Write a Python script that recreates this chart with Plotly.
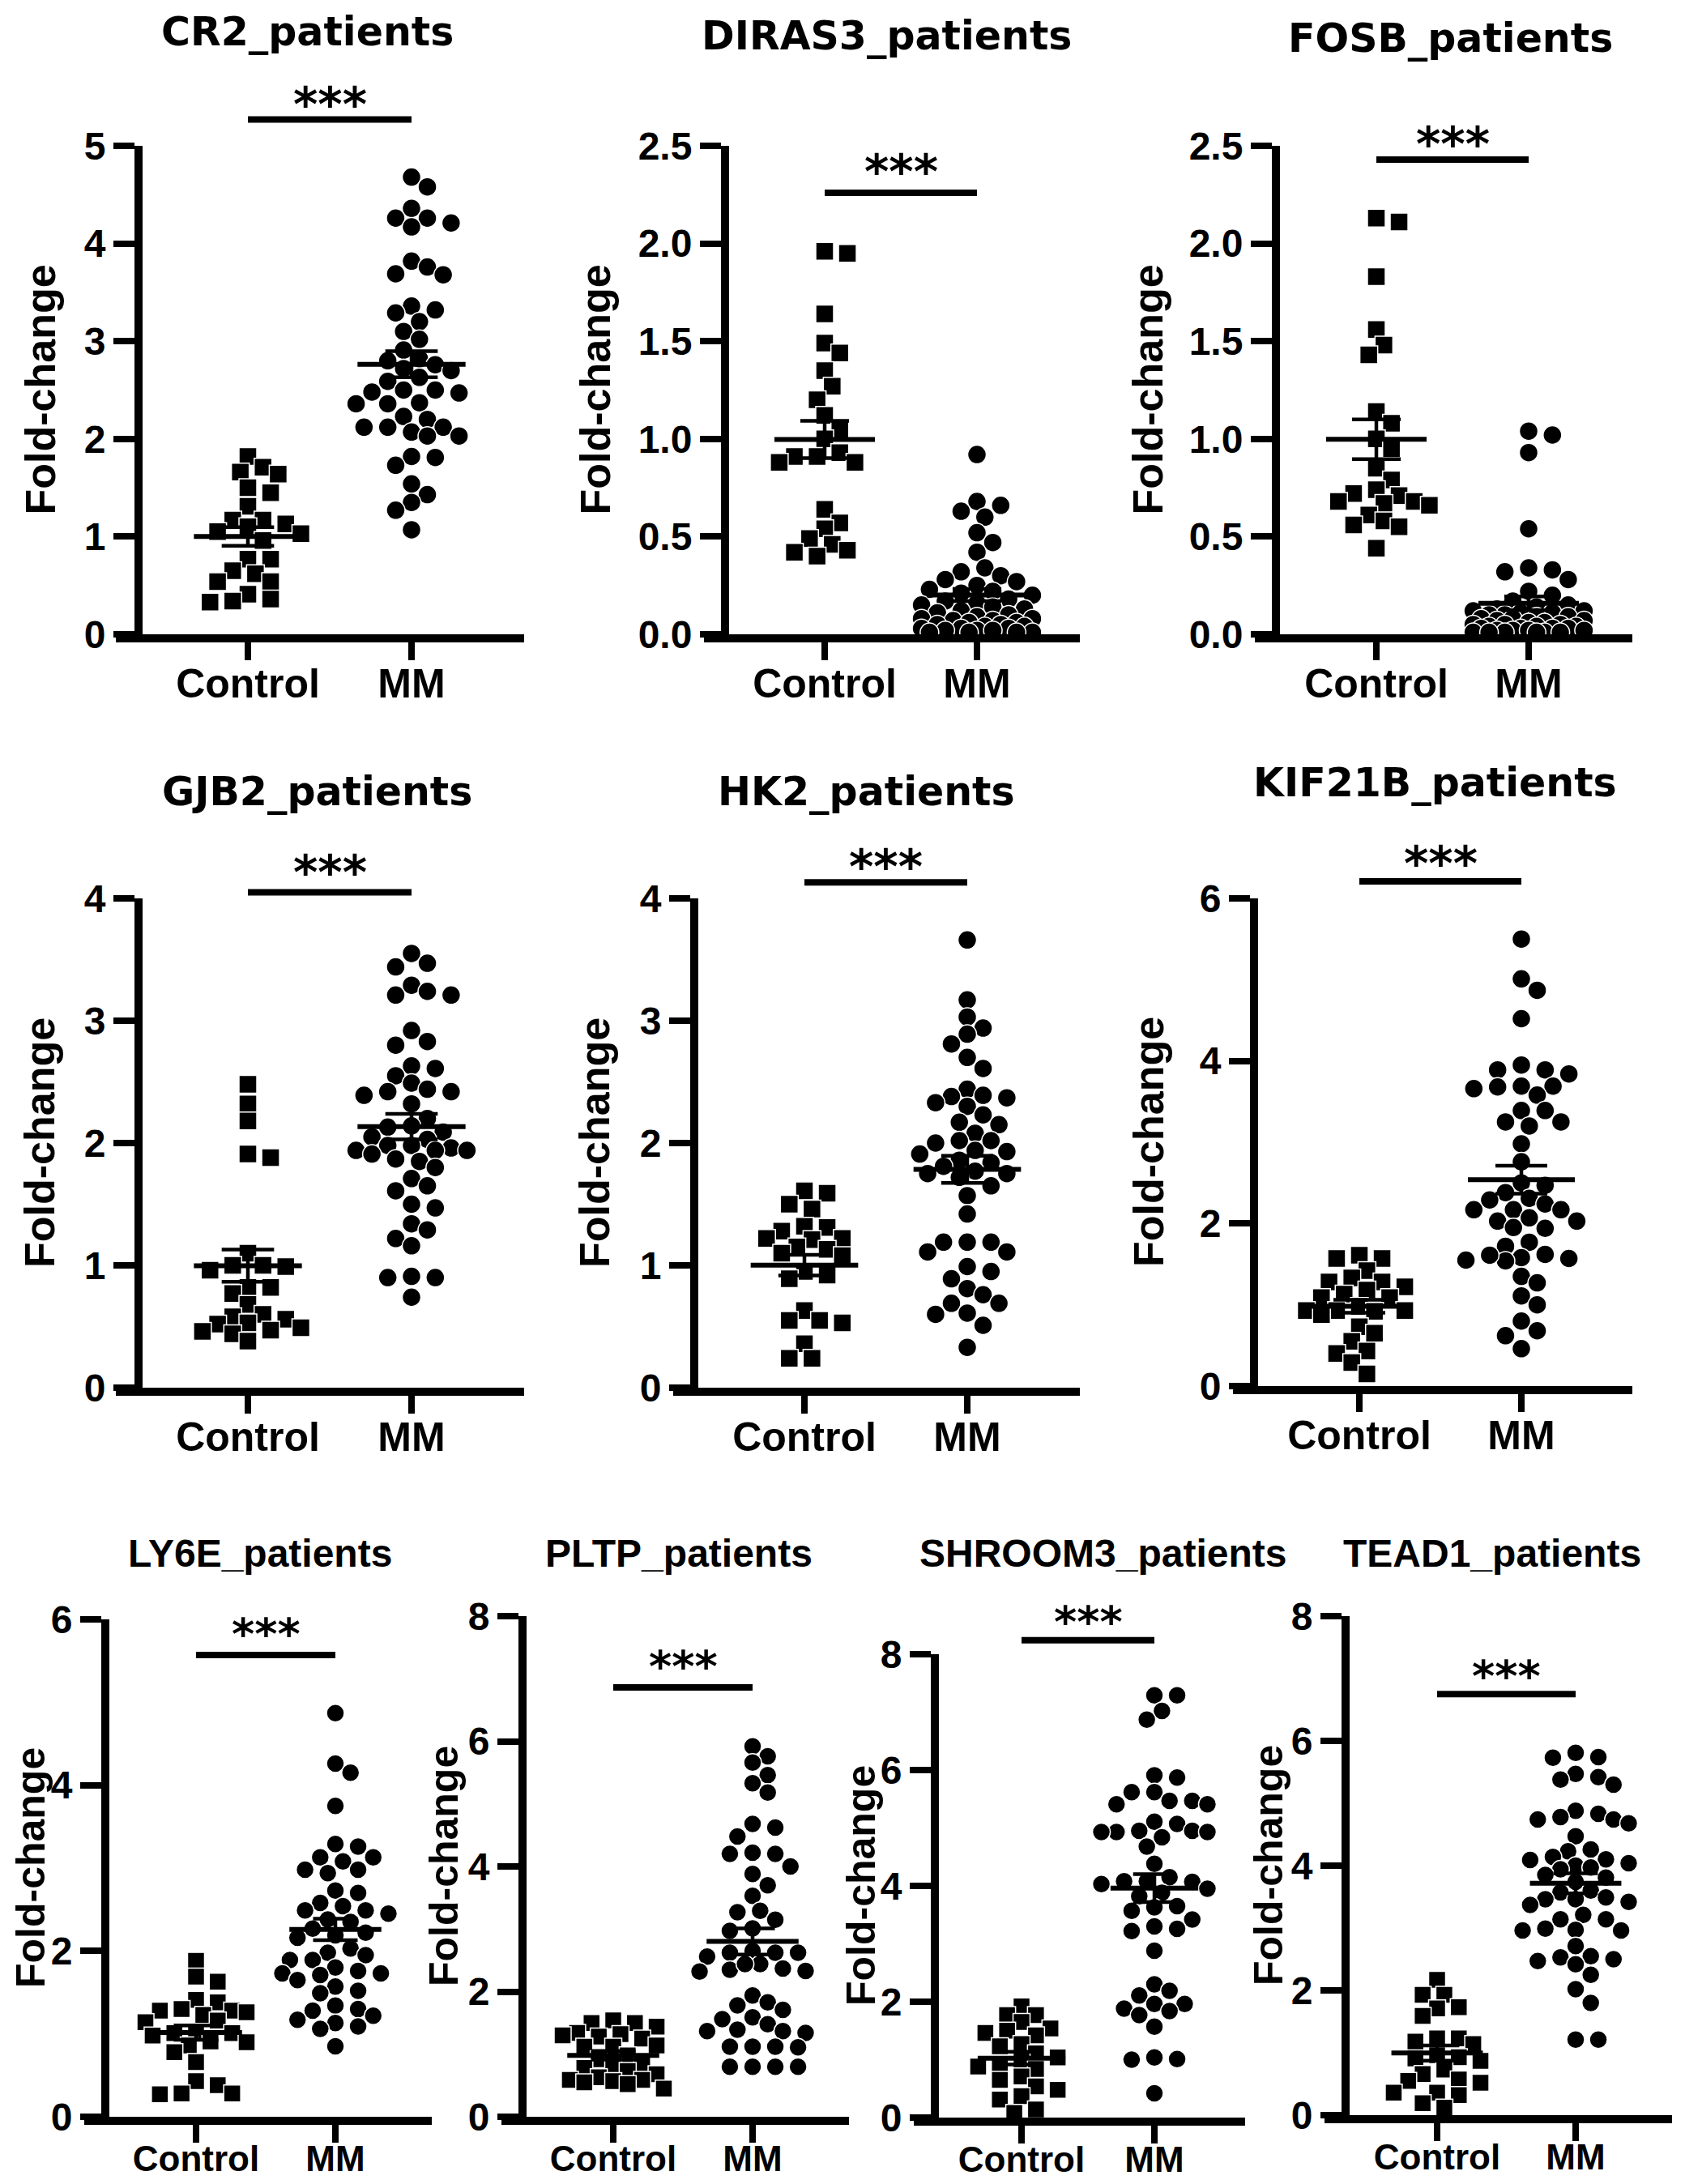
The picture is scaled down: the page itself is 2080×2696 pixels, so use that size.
import numpy as np
import plotly.graph_objects as go

W, H = 2080, 2696
OFF = 8  # the page body margin shifts the plot div by this many px

groups = ["Control", "MM"]
genes = ["CR2", "DIRAS3", "FOSB", "GJB2", "HK2", "KIF21B", "LY6E", "PLTP", "SHROOM3", "TEAD1"]

# fold-change values
cr2_control = [1.82, 1.71, 1.66, 1.64, 1.50, 1.45, 1.31, 1.17, 1.17, 1.13, 1.10, 1.05,
               1.03, 0.96, 0.77, 0.77, 0.65, 0.62, 0.54, 0.54, 0.41, 0.36, 0.34, 0.33]
cr2_mm = [4.68, 4.58, 4.36, 4.26, 4.26, 4.21, 4.17, 3.82, 3.76, 3.69, 3.68, 3.36,
          3.32, 3.29, 3.20, 3.10, 3.02, 2.91, 2.80, 2.82, 2.76, 2.72, 2.70, 2.63,
          2.59, 2.50, 2.50, 2.48, 2.47, 2.37, 2.36, 2.36, 2.23, 2.20, 2.12, 2.12,
          2.12, 2.07, 2.03, 2.03, 1.82, 1.81, 1.73, 1.54, 1.43, 1.35, 1.27, 1.07]

diras3_control = [1.96, 1.95, 1.64, 1.49, 1.44, 1.35, 1.27, 1.20, 1.12, 1.05, 1.00, 0.93,
                  0.91, 0.91, 0.88, 0.88, 0.64, 0.57, 0.54, 0.49, 0.46, 0.43, 0.42, 0.40]
diras3_mm = [0.92, 0.68, 0.66, 0.63, 0.60, 0.52, 0.47, 0.42, 0.34, 0.32, 0.30, 0.28,
             0.27, 0.25, 0.23, 0.22, 0.21, 0.20, 0.18, 0.17, 0.16, 0.15, 0.14, 0.13,
             0.12, 0.11, 0.10, 0.09, 0.08, 0.08, 0.07, 0.07, 0.06, 0.06, 0.05, 0.05,
             0.04, 0.04, 0.03, 0.03, 0.03, 0.02, 0.02, 0.02, 0.01, 0.01, 0.01, 0.01]

fosb_control = [2.13, 2.11, 1.83, 1.56, 1.48, 1.43, 1.14, 1.08, 1.00, 0.95, 0.85, 0.79,
                0.74, 0.72, 0.71, 0.68, 0.68, 0.67, 0.66, 0.61, 0.58, 0.56, 0.55, 0.44]
fosb_mm = [1.04, 1.02, 0.93, 0.54, 0.34, 0.33, 0.32, 0.28, 0.22, 0.20, 0.17, 0.15,
           0.14, 0.13, 0.12, 0.12, 0.11, 0.11, 0.10, 0.10, 0.09, 0.09, 0.08, 0.08,
           0.07, 0.07, 0.06, 0.06, 0.05, 0.05, 0.05, 0.04, 0.04, 0.04, 0.03, 0.03,
           0.03, 0.03, 0.02, 0.02, 0.02, 0.02, 0.01, 0.01, 0.01, 0.01, 0.01, 0.01]

gjb2_control = [2.48, 2.32, 2.18, 1.91, 1.88, 1.10, 1.00, 1.00, 0.99, 0.96, 0.82, 0.82,
                0.77, 0.68, 0.60, 0.58, 0.56, 0.53, 0.52, 0.49, 0.47, 0.46, 0.44, 0.38]
gjb2_mm = [3.55, 3.47, 3.44, 3.29, 3.24, 3.21, 3.21, 2.92, 2.83, 2.80, 2.63, 2.61,
           2.55, 2.49, 2.44, 2.42, 2.42, 2.39, 2.32, 2.20, 2.14, 2.13, 2.09, 2.05,
           2.03, 1.98, 1.98, 1.96, 1.94, 1.94, 1.94, 1.91, 1.87, 1.85, 1.80, 1.71,
           1.65, 1.61, 1.50, 1.47, 1.34, 1.29, 1.22, 1.16, 0.91, 0.90, 0.90, 0.74]

hk2_control = [1.61, 1.59, 1.50, 1.46, 1.32, 1.31, 1.28, 1.22, 1.22, 1.21, 1.15, 1.13,
               1.10, 1.08, 0.95, 0.92, 0.89, 0.63, 0.55, 0.55, 0.53, 0.36, 0.24, 0.24]
hk2_mm = [3.66, 3.17, 3.03, 2.94, 2.89, 2.81, 2.70, 2.61, 2.44, 2.38, 2.37, 2.39,
          2.33, 2.30, 2.23, 2.17, 2.15, 2.08, 2.02, 2.02, 2.00, 1.94, 1.93, 1.91,
          1.86, 1.84, 1.81, 1.77, 1.75, 1.75, 1.72, 1.65, 1.57, 1.42, 1.19, 1.19,
          1.19, 1.11, 1.11, 0.99, 0.95, 0.89, 0.81, 0.76, 0.69, 0.69, 0.60, 0.61,
          0.51, 0.33]

kif21b_control = [1.61, 1.57, 1.57, 1.42, 1.33, 1.28, 1.28, 1.22, 1.18, 1.13, 1.09, 1.09,
                  0.98, 0.93, 0.93, 0.93, 0.92, 0.88, 0.73, 0.65, 0.55, 0.43, 0.40, 0.29,
                  0.15]
kif21b_mm = [5.50, 5.01, 4.87, 4.52, 3.95, 3.89, 3.89, 3.84, 3.69, 3.69, 3.68, 3.66,
             3.58, 3.39, 3.39, 3.25, 3.25, 3.20, 2.98, 2.76, 2.50, 2.47, 2.38, 2.31,
             2.29, 2.24, 2.17, 2.17, 2.17, 2.07, 2.03, 2.03, 1.95, 1.94, 1.77, 1.72,
             1.58, 1.55, 1.54, 1.61, 1.62, 1.57, 1.35, 1.27, 1.11, 1.00, 0.80, 0.68,
             0.62, 0.46]

ly6e_control = [1.88, 1.69, 1.63, 1.38, 1.41, 1.30, 1.28, 1.28, 1.26, 1.23, 1.16, 1.14,
                1.01, 1.01, 1.01, 0.98, 0.91, 0.90, 0.86, 0.78, 0.66, 0.43, 0.38, 0.28,
                0.28, 0.27]
ly6e_mm = [4.87, 4.26, 4.15, 3.75, 3.29, 3.26, 3.13, 3.13, 3.08, 2.98, 2.98, 2.94,
           2.73, 2.70, 2.58, 2.54, 2.49, 2.49, 2.45, 2.38, 2.35, 2.27, 2.22, 2.19,
           2.16, 2.03, 1.98, 1.95, 1.89, 1.89, 1.80, 1.76, 1.73, 1.73, 1.71, 1.65,
           1.57, 1.52, 1.49, 1.30, 1.34, 1.28, 1.22, 1.17, 1.13, 1.09, 1.06, 0.85]

pltp_control = [1.54, 1.50, 1.50, 1.44, 1.34, 1.32, 1.30, 1.28, 1.25, 1.14, 1.12, 1.12,
                0.98, 0.92, 0.84, 0.83, 0.78, 0.73, 0.68, 0.63, 0.59, 0.59, 0.57, 0.55,
                0.52, 0.45]
pltp_mm = [5.92, 5.76, 5.66, 5.46, 5.33, 5.18, 4.68, 4.62, 4.48, 4.22, 4.20, 4.20,
           4.00, 3.88, 3.70, 3.53, 3.29, 3.27, 3.15, 3.01, 2.97, 2.62, 2.62, 2.62,
           2.65, 2.56, 2.44, 2.35, 2.37, 2.32, 2.44, 2.33, 1.94, 1.83, 1.78, 1.71,
           1.56, 1.59, 1.48, 1.39, 1.37, 1.34, 1.37, 1.12, 1.12, 1.11, 1.12, 0.80,
           0.80, 0.80, 0.80]

shroom3_control = [1.92, 1.77, 1.77, 1.65, 1.54, 1.50, 1.46, 1.42, 1.27, 1.23, 1.11, 1.04,
                   1.00, 0.92, 0.88, 0.84, 0.71, 0.65, 0.48, 0.54, 0.37, 0.31, 0.14, 0.08]
shroom3_mm = [7.29, 7.29, 7.02, 6.87, 5.91, 5.87, 5.62, 5.62, 5.47, 5.47, 5.41, 5.41,
              5.11, 5.07, 4.95, 4.95, 4.93, 4.93, 4.93, 4.84, 4.68, 4.38, 4.15, 4.08,
              4.08, 4.07, 4.03, 3.95, 3.88, 3.82, 3.65, 3.63, 3.57, 3.42, 3.30, 3.26,
              3.22, 2.88, 2.30, 2.19, 2.11, 1.96, 1.96, 1.88, 1.84, 1.77, 1.57, 1.04,
              1.00, 1.01, 0.42]

tead1_control = [2.17, 1.93, 1.93, 1.73, 1.71, 1.59, 1.23, 1.23, 1.18, 1.14, 0.96, 0.93,
                 0.91, 0.87, 0.73, 0.66, 0.57, 0.55, 0.52, 0.36, 0.36, 0.32, 0.19, 0.12]
tead1_mm = [5.81, 5.74, 5.73, 5.47, 5.42, 5.38, 5.30, 4.88, 4.83, 4.78, 4.74, 4.74,
            4.68, 4.47, 4.26, 4.23, 4.14, 4.10, 4.09, 4.04, 4.00, 3.97, 3.94, 3.85,
            3.81, 3.74, 3.57, 3.60, 3.49, 3.46, 3.42, 3.46, 3.37, 3.21, 3.14, 3.14,
            2.99, 2.97, 2.96, 2.96, 2.71, 2.55, 2.53, 2.50, 2.47, 2.42, 2.25, 2.02,
            1.80, 1.21, 1.21]

y_max = [5, 2.5, 2.5, 4, 4, 6, 6, 8, 8, 8]
y_dtick = [1, 0.5, 0.5, 1, 1, 2, 2, 2, 2, 2]

data = [
    (cr2_control, cr2_mm), (diras3_control, diras3_mm), (fosb_control, fosb_mm),
    (gjb2_control, gjb2_mm), (hk2_control, hk2_mm), (kif21b_control, kif21b_mm),
    (ly6e_control, ly6e_mm), (pltp_control, pltp_mm), (shroom3_control, shroom3_mm),
    (tead1_control, tead1_mm),
]

# page geometry in pixels: y axis x, x axis start/end, group centres, y0/ytop,
# title centre, y label x, significance bar and star height (in data units)
panels = [
    dict(yax=171, xs=143, xe=647, c=306, m=508, y0=783, yt=180, title=(379, 39), lab=49, bar=5.27, star=5.55, row=0),
    dict(yax=895, xs=869, xe=1333, c=1018, m=1206, y0=783, yt=180, title=(1095, 45), lab=734, bar=2.26, star=2.43, row=0),
    dict(yax=1575, xs=1549, xe=2015, c=1699, m=1887, y0=783, yt=180, title=(1790, 48), lab=1416, bar=2.43, star=2.57, row=0),
    dict(yax=171, xs=143, xe=647, c=306, m=508, y0=1713, yt=1109, title=(391, 977), lab=49, bar=4.05, star=4.31, row=1),
    dict(yax=857, xs=831, xe=1333, c=993, m=1194, y0=1713, yt=1109, title=(1069, 977), lab=734, bar=4.13, star=4.36, row=1),
    dict(yax=1548, xs=1522, xe=2015, c=1678, m=1878, y0=1711, yt=1109, title=(1771, 966), lab=1418, bar=6.21, star=6.58, row=1),
    dict(yax=130, xs=104, xe=533, c=242, m=414, y0=2613, yt=1999, title=(321, 1917), lab=38, bar=5.57, star=5.97, row=2),
    dict(yax=645, xs=619, xe=1048, c=757, m=929, y0=2613, yt=1995, title=(838, 1917), lab=548, bar=6.86, star=7.38, row=2),
    dict(yax=1154, xs=1128, xe=1537, c=1261, m=1425, y0=2614, yt=2042, title=(1361, 1917), lab=1063, bar=8.24, star=8.76, row=2),
    dict(yax=1661, xs=1635, xe=2064, c=1774, m=1945, y0=2611, yt=1995, title=(1842, 1917), lab=1566, bar=6.75, star=7.23, row=2),
]

row_style = [
    dict(title_font="DejaVu Sans", title_size=49, xtick=50, ytick=48, star=58, ms=23, xpad=-14, lab=52),
    dict(title_font="DejaVu Sans", title_size=49, xtick=50, ytick=48, star=58, ms=23, xpad=-14, lab=52),
    dict(title_font="Liberation Sans", title_size=48, xtick=44, ytick=48, star=54, ms=22, xpad=-18, lab=50),
]

ARIAL = "Liberation Sans"
LW = 10  # axis / bracket line width


def fx(px):
    return (px - OFF) / W


def fy(px):
    return 1 - (px - OFF) / H


def swarm(vals, py, d, step, kmax=7):
    """Horizontal offsets (px) for a simple greedy bee-swarm."""
    vals = np.asarray(vals, dtype=float)
    cands = [0.0]
    for k in range(1, kmax + 1):
        cands += [k * step / 2, -k * step / 2]
    placed = []
    offs = np.zeros(len(vals))
    for i in np.argsort(-vals, kind="stable"):
        y = vals[i] * py
        best, best_gap = 0.0, -1.0
        for cx in cands:
            gap = min((np.hypot(cx - px, y - qy) for px, qy in placed), default=np.inf)
            if gap >= 0.9 * d:
                best = cx
                break
            if gap > best_gap:
                best, best_gap = cx, gap
        offs[i] = best
        placed.append((best, y))
    return offs


fig = go.Figure()
annotations = []
shapes = []

for n, (gene, p, (ctrl, mm)) in enumerate(zip(genes, panels, data), start=1):
    st = row_style[p["row"]]
    ux = p["m"] - p["c"]
    py = (p["y0"] - p["yt"]) / y_max[n - 1]
    xa, ya = "x%d" % n, "y%d" % n

    for gi, (vals, sym) in enumerate([(ctrl, "square"), (mm, "circle")]):
        size = st["ms"] - 1 if sym == "square" else st["ms"]
        offs = swarm(vals, py, size, 0.85 * size)
        fig.add_trace(go.Scatter(
            x=gi + offs / ux, y=vals, mode="markers", xaxis=xa, yaxis=ya,
            marker=dict(symbol=sym, size=size, color="black",
                        line=dict(color="white", width=1.5)),
            cliponaxis=False, showlegend=False, hoverinfo="y",
        ))

    # mean line and SEM whiskers
    for gi, vals in enumerate([ctrl, mm]):
        v = np.asarray(vals)
        mean = v.mean()
        sem = v.std(ddof=1) / np.sqrt(len(v))
        fig.add_trace(go.Scatter(
            x=[gi - 0.33, gi + 0.33], y=[mean, mean], mode="lines",
            xaxis=xa, yaxis=ya, line=dict(color="black", width=6),
            showlegend=False, hoverinfo="skip", cliponaxis=False,
        ))
        fig.add_trace(go.Scatter(
            x=[gi, gi, None, gi - 0.16, gi + 0.16, None, gi - 0.16, gi + 0.16],
            y=[mean - sem, mean + sem, None, mean + sem, mean + sem, None, mean - sem, mean - sem],
            mode="lines", xaxis=xa, yaxis=ya, line=dict(color="black", width=4.5),
            showlegend=False, hoverinfo="skip", cliponaxis=False,
        ))

    fig.update_layout(**{
        "xaxis%d" % n: dict(
            domain=[fx(p["xs"]), fx(p["xe"])], anchor=ya, automargin=False,
            range=[(p["xs"] - p["c"]) / ux, (p["xe"] - p["c"]) / ux],
            tickvals=[0, 1], ticktext=groups, showgrid=False, zeroline=False,
            showline=True, linewidth=LW, linecolor="black",
            ticks="outside", ticklen=22, tickwidth=8, tickcolor="black",
            ticklabelstandoff=st["xpad"],
            tickfont=dict(family=ARIAL, size=st["xtick"], color="black", weight="bold"),
        ),
        "yaxis%d" % n: dict(
            domain=[fy(p["y0"]), fy(p["yt"])], anchor="free", automargin=False,
            position=fx(p["yax"]), range=[0, y_max[n - 1]], dtick=y_dtick[n - 1],
            tickformat=".1f" if y_dtick[n - 1] < 1 else "d",
            showgrid=False, zeroline=False, showline=True, linewidth=LW, linecolor="black",
            ticks="outside", ticklen=26, tickwidth=8, tickcolor="black",
            tickfont=dict(family=ARIAL, size=st["ytick"], color="black", weight="bold"),
        ),
    })

    # significance bracket, placed in page coordinates so it may sit above the axis
    bar_px = p["y0"] - p["bar"] * py
    star_px = p["y0"] - p["star"] * py
    shapes.append(dict(type="line", xref="paper", yref="paper",
                       x0=fx(p["c"]), x1=fx(p["m"]), y0=fy(bar_px), y1=fy(bar_px),
                       line=dict(color="black", width=LW - 2)))
    annotations.append(dict(
        xref="paper", yref="paper", x=fx((p["c"] + p["m"]) / 2), y=fy(star_px),
        text="***", showarrow=False, xanchor="center", yanchor="middle", yshift=-15,
        font=dict(family="DejaVu Sans", size=st["star"], color="black", weight="bold"),
    ))
    annotations.append(dict(
        xref="paper", yref="paper", x=fx(p["title"][0]), y=fy(p["title"][1]),
        text=gene + "_patients", showarrow=False, xanchor="center", yanchor="middle",
        font=dict(family=st["title_font"], size=st["title_size"], color="black", weight="bold"),
    ))
    annotations.append(dict(
        xref="paper", yref="paper", x=fx(p["lab"]), y=fy((p["y0"] + p["yt"]) / 2),
        text="Fold-change", showarrow=False, textangle=-90, xanchor="center", yanchor="middle",
        font=dict(family=ARIAL, size=st["lab"], color="black", weight="bold"),
    ))

fig.update_layout(
    width=W, height=H, autosize=False,
    margin=dict(l=0, r=0, t=0, b=0, pad=0, autoexpand=False),
    paper_bgcolor="white", plot_bgcolor="white",
    annotations=annotations, shapes=shapes, showlegend=False,
)

fig.write_html("out.html")
